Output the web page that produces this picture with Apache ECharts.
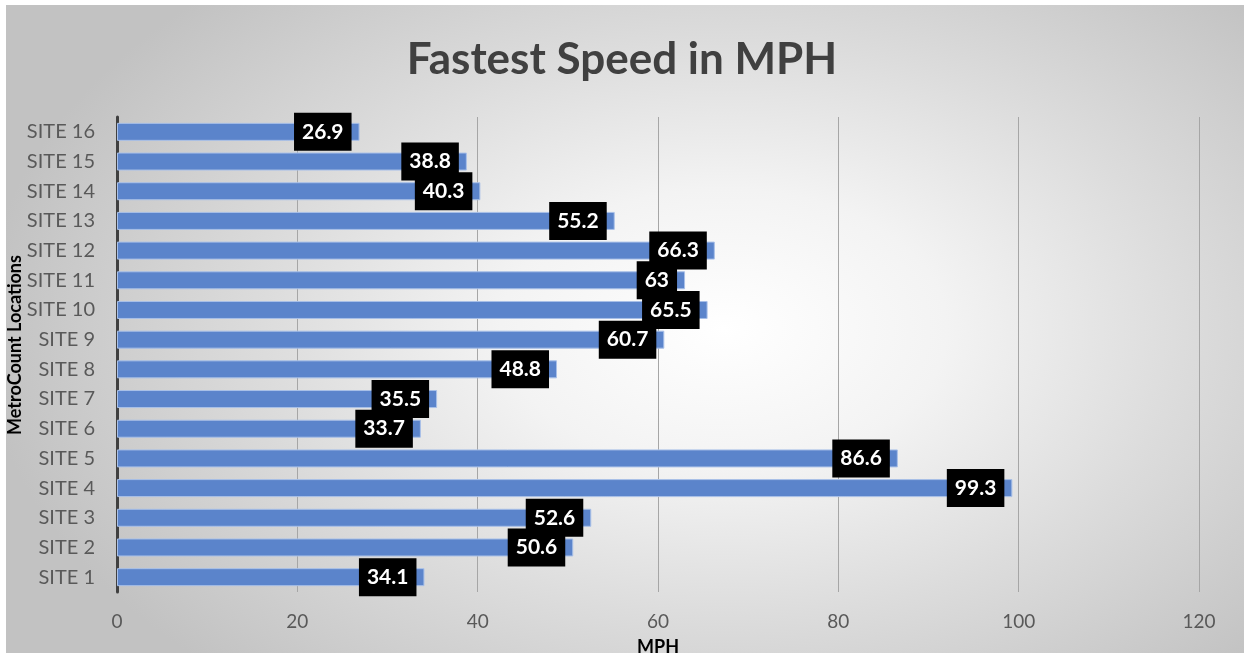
<!DOCTYPE html>
<html>
<head>
<meta charset="utf-8">
<title>Fastest Speed in MPH</title>
<script src="https://cdn.jsdelivr.net/npm/echarts@6/dist/echarts.min.js"></script>
<style>
  html, body { margin: 0; padding: 0; background: #ffffff; }
  #bg {
    position: absolute; left: 6px; top: 5px; width: 1238px; height: 648px;
    background: radial-gradient(ellipse 60% 72% at 58% 50%, #ffffff 0%, #f3f3f3 30%, #dcdcdc 62%, #c2c2c2 100%);
  }
  #chart { position: absolute; left: 0; top: 0; width: 1244px; height: 653px; }
</style>
</head>
<body>
<div id="bg"></div>
<div id="chart"></div>
<script>
// Site names, bottom to top
const sites = ['SITE 1', 'SITE 2', 'SITE 3', 'SITE 4', 'SITE 5', 'SITE 6', 'SITE 7', 'SITE 8',
               'SITE 9', 'SITE 10', 'SITE 11', 'SITE 12', 'SITE 13', 'SITE 14', 'SITE 15', 'SITE 16'];
// Fastest recorded speed at each site (MPH)
const fastestSpeed = [34.1, 50.6, 52.6, 99.3, 86.6, 33.7, 35.5, 48.8,
                      60.7, 65.5, 63, 66.3, 55.2, 40.3, 38.8, 26.9];
// Speed axis range
const speedMin = 0;
const speedMax = 120;
const speedStep = 20;

const font = 'Lato, "Open Sans", sans-serif';

const chart = echarts.init(document.getElementById('chart'), null, { renderer: 'canvas' });
chart.setOption({
  backgroundColor: 'transparent',
  animation: false,
  title: {
    text: 'Fastest Speed in MPH',
    left: 'center',
    top: 33,
    textStyle: { fontFamily: font, fontWeight: 'bold', fontSize: 44, color: '#404040' }
  },
  // Vertical axis title, placed by hand so it sits close to the site labels
  graphic: [{
    type: 'text',
    x: 15,
    y: 345,
    rotation: Math.PI / 2,
    style: {
      text: 'MetroCount Locations',
      fontFamily: font,
      fontWeight: 'bold',
      fontSize: 18,
      fill: '#000000',
      align: 'center',
      verticalAlign: 'middle'
    },
    z: 10
  }],
  grid: { left: 117, right: 45, top: 117, bottom: 61, containLabel: false, outerBoundsMode: 'none' },
  xAxis: {
    type: 'value',
    min: speedMin,
    max: speedMax,
    interval: speedStep,
    name: 'MPH',
    nameLocation: 'middle',
    nameGap: 46,
    nameTextStyle: { fontFamily: font, fontWeight: 'bold', fontSize: 18, color: '#000000' },
    axisLine: { show: false },
    axisTick: { show: false },
    axisLabel: { fontFamily: font, fontSize: 19, color: '#595959', margin: 20 },
    splitLine: { show: true, lineStyle: { color: '#a6a6a6', width: 1 } }
  },
  yAxis: {
    type: 'category',
    data: sites,
    axisLine: { show: true, lineStyle: { color: '#404040', width: 3 } },
    axisTick: { show: false },
    axisLabel: { fontFamily: font, fontSize: 20, color: '#595959', margin: 22 },
    splitLine: { show: false }
  },
  series: [{
    type: 'bar',
    data: fastestSpeed,
    barWidth: 18,
    itemStyle: { color: '#5b84cb', borderColor: '#a9c0e8', borderWidth: 1 },
    label: {
      show: true,
      position: 'insideRight',
      distance: 8,
      fontFamily: font,
      fontWeight: 'bold',
      fontSize: 21,
      color: '#ffffff',
      backgroundColor: '#000000',
      padding: [9, 8, 8, 8]
    }
  }]
});
</script>
</body>
</html>
